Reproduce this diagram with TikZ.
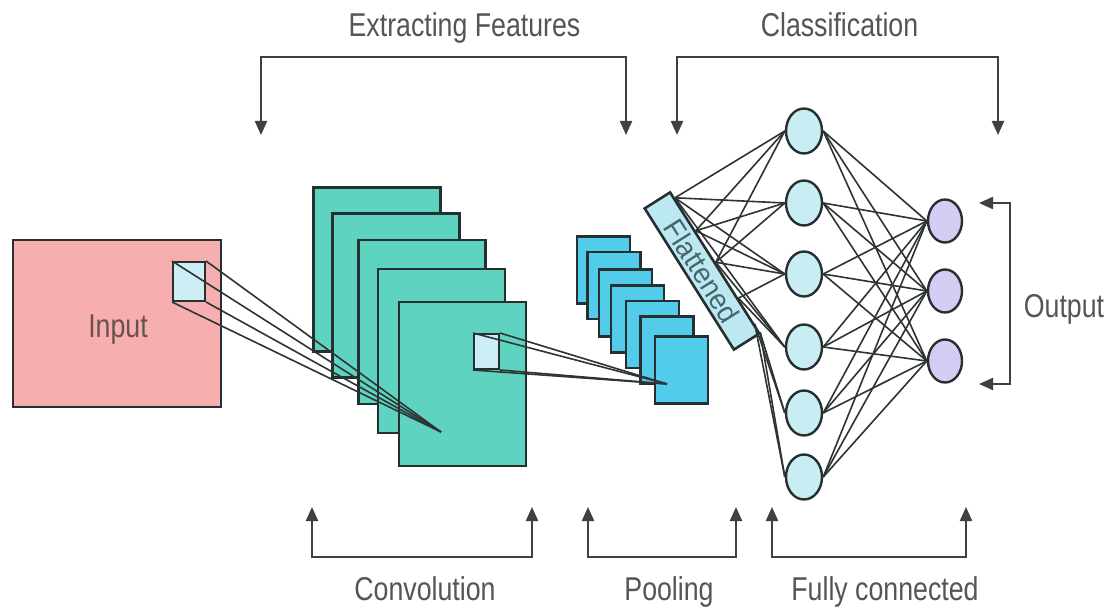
\documentclass[tikz,border=0pt]{standalone}
\usepackage{fontspec}
\setmainfont{Liberation Sans}[FakeStretch=0.81]
\newfontfamily\flatfont{Liberation Sans}[FakeStretch=0.95]
\usetikzlibrary{arrows.meta,calc,shapes.geometric}
\definecolor{edgec}{HTML}{263030}
\definecolor{inputc}{HTML}{F7AEAE}
\definecolor{patchc}{HTML}{CDEEF5}
\definecolor{convc}{HTML}{5ED4C0}
\definecolor{poolc}{HTML}{52CCEA}
\definecolor{flatc}{HTML}{BCE8F2}
\definecolor{hidc}{HTML}{C8EDF3}
\definecolor{outc}{HTML}{D4CCF3}
\definecolor{linkc}{HTML}{2E3333}
\definecolor{brkc}{HTML}{404040}
\definecolor{lblc}{HTML}{555555}
\definecolor{inlblc}{HTML}{6B5050}
\definecolor{flatlblc}{HTML}{46666C}
\begin{document}
\begin{tikzpicture}[x=1pt,y=-1pt,
 box/.style={draw=edgec,line width=2.6pt,inner sep=0pt,line join=miter},
 inbox/.style={box,fill=inputc,minimum width=208pt,minimum height=167pt},
 patch/.style={box,fill=patchc,line width=2pt},
 conv/.style={box,fill=convc,minimum width=127pt,minimum height=164pt},
 pool/.style={box,fill=poolc,minimum width=53pt,minimum height=67pt},
 flat/.style={box,fill=flatc,minimum width=167pt,minimum height=30pt,rotate=-57.7,text=flatlblc,font=\flatfont\fontsize{29}{30}\selectfont},
 neuron/.style={ellipse,draw=edgec,line width=2.4pt,inner sep=0pt},
 hid/.style={neuron,fill=hidc,minimum width=36pt,minimum height=45pt},
 outn/.style={neuron,fill=outc,minimum width=34pt,minimum height=43pt},
 link/.style={draw=linkc,line width=1.6pt},
 brk/.style={draw=brkc,line width=2.2pt,{Triangle[length=14pt,width=12pt]}-{Triangle[length=14pt,width=12pt]}},
 lbl/.style={text=lblc,font=\fontsize{33}{38}\selectfont,inner sep=0pt,anchor=base}
]
\fill[white] (0,0) rectangle (1110,612);
\useasboundingbox (0,0) rectangle (1110,612);

% input
\node[inbox] (input) at (117,323.5) {};
\node[lbl,text=inlblc] (inlbl) at (118,337) {Input};
\node[patch,minimum width=32pt,minimum height=39pt] (ipatch) at (189,281.5) {};

% convolution maps
\foreach \i/\x/\y in {1/377/269.5, 2/396/295.5, 3/422/322, 4/441.5/351, 5/462.5/384}
  \node[conv] (c\i) at (\x,\y) {};
\node[patch,minimum width=25pt,minimum height=35pt] (cpatch) at (486.5,351.5) {};

% pooling maps
\foreach \i/\x/\y in {1/603.5/270, 2/614/285.5, 3/625.5/303, 4/637.5/319, 5/652.5/334.5, 6/667/350, 7/681.5/370}
  \node[pool] (p\i) at (\x,\y) {};

% receptive field lines
\coordinate (apex1) at (441,432);
\coordinate (apex2) at (667,384);
\foreach \a in {north west,north east,south west,south east}{
  \draw[link] (ipatch.\a) -- (apex1);
  \draw[link] (cpatch.\a) -- (apex2);
}

% flattened
\node[flat] (flat) at (702,271) {Flattened};

% hidden and output layers
\foreach \i/\y in {1/131,2/203,3/274,4/347,5/413,6/477}
  \node[hid] (h\i) at (804,\y) {};
\foreach \i/\y in {1/221,2/291,3/361}
  \node[outn] (o\i) at (945,\y) {};

\foreach \i in {1,...,6}
  \foreach \j in {1,2,3}
    \draw[link] (h\i.east) -- (o\j.west);

\coordinate (fa) at ($(flat.north west)!0.05!(flat.north east)$);
\coordinate (fb) at ($(flat.north west)!0.28!(flat.north east)$);
\coordinate (fc) at ($(flat.north west)!0.5!(flat.north east)$);
\coordinate (fd) at ($(flat.north west)!0.75!(flat.north east)$);
\coordinate (fe) at ($(flat.north west)!0.93!(flat.north east)$);
\coordinate (ff) at ($(flat.north west)!0.99!(flat.north east)$);
\foreach \p/\h in {fa/1,fa/2,fa/3,fa/4,fb/1,fb/2,fb/3,fc/1,fc/2,fc/3,fc/4,fd/3,fd/4,fe/5,fe/6,ff/5,ff/6}
  \draw[link] (\p) -- (h\h.west);

% brackets
\coordinate (efa) at (261,135); \coordinate (efb) at (261,57);
\coordinate (efc) at (626,57);  \coordinate (efd) at (626,135);
\draw[brk] (efa) -- (efb) -- (efc) -- (efd);
\coordinate (cla) at (677,135); \coordinate (clb) at (677,57);
\coordinate (clc) at (998,57);  \coordinate (cld) at (998,135);
\draw[brk] (cla) -- (clb) -- (clc) -- (cld);
\coordinate (cva) at (312,507); \coordinate (cvb) at (312,557);
\coordinate (cvc) at (532,557); \coordinate (cvd) at (532,507);
\draw[brk] (cva) -- (cvb) -- (cvc) -- (cvd);
\coordinate (pla) at (588,507); \coordinate (plb) at (588,557);
\coordinate (plc) at (736,557); \coordinate (pld) at (736,507);
\draw[brk] (pla) -- (plb) -- (plc) -- (pld);
\coordinate (fca) at (772,507); \coordinate (fcb) at (772,557);
\coordinate (fcc) at (966,557); \coordinate (fcd) at (966,507);
\draw[brk] (fca) -- (fcb) -- (fcc) -- (fcd);
\coordinate (ota) at (979,203); \coordinate (otb) at (1010,203);
\coordinate (otc) at (1010,384); \coordinate (otd) at (979,384);
\draw[brk] (ota) -- (otb) -- (otc) -- (otd);

% labels
\node[lbl] (lef) at (464.5,37) {Extracting Features};
\node[lbl] (lcl) at (839.5,37) {Classification};
\node[lbl] (lconv) at (425,600) {Convolution};
\node[lbl] (lpool) at (669,600) {Pooling};
\node[lbl] (lfc) at (885,600) {Fully connected};
\node[lbl] (lout) at (1064,317) {Output};
\end{tikzpicture}
\end{document}
